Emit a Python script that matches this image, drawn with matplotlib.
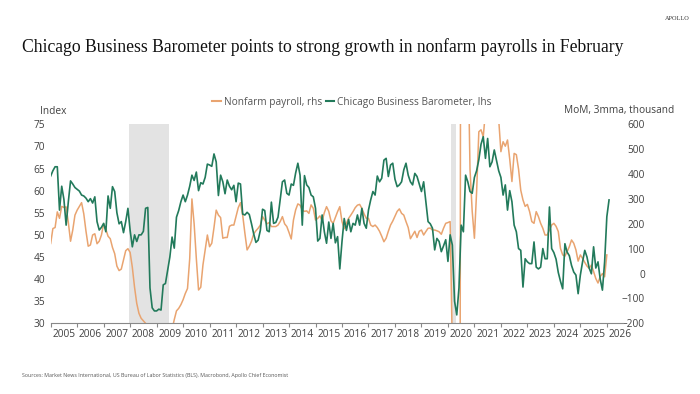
import numpy as np
import matplotlib
matplotlib.use("Agg")
import matplotlib.pyplot as plt
from matplotlib.ticker import FixedLocator, NullFormatter, FixedFormatter

# Chicago Business Barometer (index), monthly from Jan 2005 to Feb 2026
chicago_pmi = [
    63.3, 64.5, 65.4, 65.4, 55.6, 61.0, 58.0, 52.2, 57.5, 62.2, 61.5, 60.7,  # 2005
    60.3, 59.9, 59.0, 58.8, 58.3, 57.5, 58.2, 57.2, 58.6, 53.0, 51.1, 51.7,  # 2006
    52.6, 50.7, 58.8, 56.0, 60.9, 59.8, 55.0, 52.5, 53.0, 50.5, 53.0, 56.0,  # 2007
    51.0, 47.3, 50.0, 48.5, 50.0, 50.0, 50.8, 56.0, 56.2, 38.0, 33.5, 32.8,  # 2008
    32.8, 33.2, 33.0, 38.7, 39.0, 42.0, 45.0, 49.5, 47.0, 54.0, 55.5, 57.5,  # 2009
    59.0, 57.5, 59.0, 61.0, 63.5, 62.3, 64.2, 60.0, 61.8, 61.5, 63.0, 66.0,  # 2010
    65.8, 65.5, 68.3, 66.5, 58.9, 63.5, 62.0, 59.3, 62.4, 61.0, 60.2, 61.2,  # 2011
    57.5, 61.7, 61.5, 54.7, 54.5, 55.1, 54.6, 52.5, 50.2, 48.3, 48.8, 51.0,  # 2012
    55.8, 55.5, 51.0, 50.7, 57.4, 52.6, 52.8, 54.0, 58.0, 62.0, 62.4, 59.4,  # 2013
    59.0, 61.5, 61.2, 64.0, 66.2, 63.5, 52.2, 63.4, 61.3, 60.7, 59.0, 58.6,  # 2014
    56.0, 48.6, 49.2, 54.5, 50.7, 48.1, 52.9, 49.2, 52.6, 48.2, 49.6, 42.3,  # 2015
    48.5, 53.7, 51.0, 53.5, 50.7, 52.6, 52.2, 54.5, 52.2, 56.0, 52.6, 51.5,  # 2016
    55.6, 57.9, 59.8, 59.0, 63.3, 62.0, 62.8, 66.9, 67.3, 63.2, 65.8, 66.2,  # 2017
    62.6, 60.9, 61.3, 62.0, 64.7, 66.2, 63.5, 62.0, 61.3, 63.9, 63.2, 61.5,  # 2018
    59.8, 62.0, 57.5, 53.0, 52.5, 51.5, 46.6, 49.2, 48.5, 46.2, 47.5, 48.9,  # 2019
    44.0, 50.0, 47.7, 35.0, 31.9, 38.0, 52.2, 50.7, 63.5, 62.0, 59.8, 59.4,  # 2020
    63.0, 64.5, 67.0, 70.5, 72.2, 67.3, 71.8, 65.4, 66.5, 69.2, 66.9, 64.5,  # 2021
    63.0, 59.0, 61.3, 55.6, 60.0, 57.5, 52.2, 50.7, 46.9, 46.5, 38.2, 44.6,  # 2022
    43.9, 43.5, 43.5, 48.4, 42.7, 42.3, 42.7, 46.9, 44.6, 44.6, 56.3, 46.9,  # 2023
    46.0, 44.5, 41.5, 39.5, 37.8, 48.0, 46.1, 45.3, 43.1, 41.6, 40.9, 36.7,  # 2024
    40.9, 43.9, 46.5, 45.0, 42.5, 41.2, 47.3, 42.5, 43.9, 40.0, 37.5, 43.9,  # 2025
    54.1, 57.9,                                                              # 2026
]

# Nonfarm payrolls, MoM 3mma (thousand), monthly from Jan 2005 to Jan 2026
payrolls_3mma = [
    121, 181, 185, 248, 222, 270, 266, 268, 205, 130, 175, 235,  # 2005
    255, 270, 285, 240, 170, 110, 115, 155, 160, 120, 130, 155,  # 2006
    200, 178, 150, 140, 105, 80, 30, 12, 18, 55, 92, 100,  # 2007
    85, 25, -55, -120, -160, -180, -190, -200, -260, -430, -600, -690,  # 2008
    -720, -760, -780, -700, -560, -430, -330, -225, -185, -150, -140, -125,  # 2009
    -105, -80, -60, 60, 300, 200, 60, -66, -55, 35, 95, 155,  # 2010
    108, 122, 185, 255, 235, 225, 142, 145, 145, 190, 195, 195,  # 2011
    230, 265, 285, 235, 162, 95, 110, 130, 160, 172, 182, 195,  # 2012
    229, 215, 200, 205, 189, 189, 189, 195, 209, 229, 200, 189,  # 2013
    165, 139, 215, 256, 280, 275, 255, 250, 252, 242, 276, 262,  # 2014
    215, 222, 232, 212, 245, 269, 250, 212, 202, 225, 249, 269,  # 2015
    209, 180, 202, 222, 235, 249, 265, 275, 278, 262, 240, 222,  # 2016
    222, 195, 189, 195, 185, 170, 150, 128, 142, 170, 195, 211,  # 2017
    230, 250, 260, 242, 235, 209, 185, 140, 155, 170, 145, 170,  # 2018
    175, 155, 169, 182, 183, 175, 175, 172, 168, 158, 182, 202,  # 2019
    205, 209, -300, -7200, -6370, -4370, 3000, 2570, 1270, 960, 420, 250,  # 2020
    142, 330, 570, 578, 550, 650, 790, 720, 650, 640, 660, 620,  # 2021
    490, 530, 512, 537, 460, 370, 483, 478, 420, 335, 296, 270,  # 2022
    278, 249, 209, 202, 249, 229, 202, 182, 155, 155, 175, 195,  # 2023
    202, 190, 169, 101, 75, 70, 88, 108, 135, 122, 95, 50,  # 2024
    75, 61, 45, 30, 21, 34, 8, -20, -38, -12, 0, -13,  # 2025
    75,  # 2026
]

start_year = 2005
recessions = [((2007, 12), (2009, 6)), ((2020, 2), (2020, 4))]
years = list(range(2005, 2027))

title = "Chicago Business Barometer points to strong growth in nonfarm payrolls in February"
source = ("Sources: Market News International, US Bureau of Labor Statistics (BLS), "
          "Macrobond, Apollo Chief Economist")

green = "#227a5b"
orange = "#e9a470"
tick_color = "#404040"

t_pmi = start_year + np.arange(len(chicago_pmi)) / 12
t_nfp = start_year + np.arange(len(payrolls_3mma)) / 12

fig = plt.figure(figsize=(7, 3.94), dpi=100)
ax = fig.add_axes([0.0724, 0.1794, 0.8172, 0.5051])
ax2 = ax.twinx()

# recession shading (mid-month to mid-month)
for (y0, m0), (y1, m1) in recessions:
    ax2.axvspan(y0 + (m0 - 0.5) / 12, y1 + (m1 - 0.5) / 12, color="#e3e3e3", lw=0, zorder=0)

ax2.plot(t_nfp, payrolls_3mma, color=orange, lw=1.1, zorder=2)
ax.plot(t_pmi, chicago_pmi, color=green, lw=1.2, zorder=3)

# green line above the orange one
ax.set_zorder(ax2.get_zorder() + 1)
ax.patch.set_visible(False)

ax.set_xlim(2005.0, 2026.6)
ax.set_ylim(30, 75)
ax2.set_ylim(-200, 600)
ax.set_yticks(np.arange(30, 76, 5))
ax2.set_yticks(np.arange(-200, 601, 100))

ax.xaxis.set_major_locator(FixedLocator(years))
ax.xaxis.set_major_formatter(NullFormatter())
ax.xaxis.set_minor_locator(FixedLocator([y + 0.5 for y in years]))
ax.xaxis.set_minor_formatter(FixedFormatter([str(y) for y in years]))
ax.tick_params(axis="x", which="major", length=3, color="#888888", width=0.8)
ax.tick_params(axis="x", which="minor", length=0, pad=4, labelsize=7.3, labelcolor=tick_color)
ax.tick_params(axis="y", length=0, pad=4, labelsize=7.3, labelcolor=tick_color)
ax2.tick_params(axis="y", length=0, pad=16, labelsize=7.3, labelcolor=tick_color)
for lab in ax2.get_yticklabels():
    lab.set_horizontalalignment("right")

for a in (ax, ax2):
    for side in ("top", "left", "right"):
        a.spines[side].set_visible(False)
    a.spines["bottom"].set_color("#888888")
    a.spines["bottom"].set_linewidth(0.8)
ax2.spines["bottom"].set_visible(False)

for lab in ax.get_xticklabels(minor=True) + ax.get_yticklabels() + ax2.get_yticklabels():
    lab.set_fontfamily("Open Sans")

# legend
h1, = ax.plot([], [], color=orange, lw=1.5)
h2, = ax.plot([], [], color=green, lw=1.5)
fig.legend([h1, h2], ["Nonfarm payroll, rhs", "Chicago Business Barometer, lhs"],
           loc="center", bbox_to_anchor=(352 / 700, 1 - 102 / 394), ncol=2, frameon=False,
           handlelength=0.8, handletextpad=0.3, columnspacing=0.4,
           prop={"family": "Open Sans", "size": 7.3}, labelcolor="#555555")

fig.text(40 / 700, 1 - 111 / 394, "Index", fontsize=7.3, family="Open Sans",
         color=tick_color, va="center", ha="left")
fig.text(674 / 700, 1 - 111 / 394, "MoM, 3mma, thousand", fontsize=7.3, family="Open Sans",
         color=tick_color, va="center", ha="right")

fig.text(22 / 700, 1 - 47 / 394, title, fontsize=12.7, family="Liberation Serif",
         color="#111111", va="center", ha="left")
fig.text(690 / 700, 1 - 19 / 394, "APOLLO", fontsize=4.5, family="Liberation Serif",
         color="#333333", va="center", ha="right")
fig.text(22 / 700, 1 - 376 / 394, source, fontsize=3.8, family="Open Sans",
         color="#555555", va="center", ha="left")

fig.savefig("out.png", dpi=100)
